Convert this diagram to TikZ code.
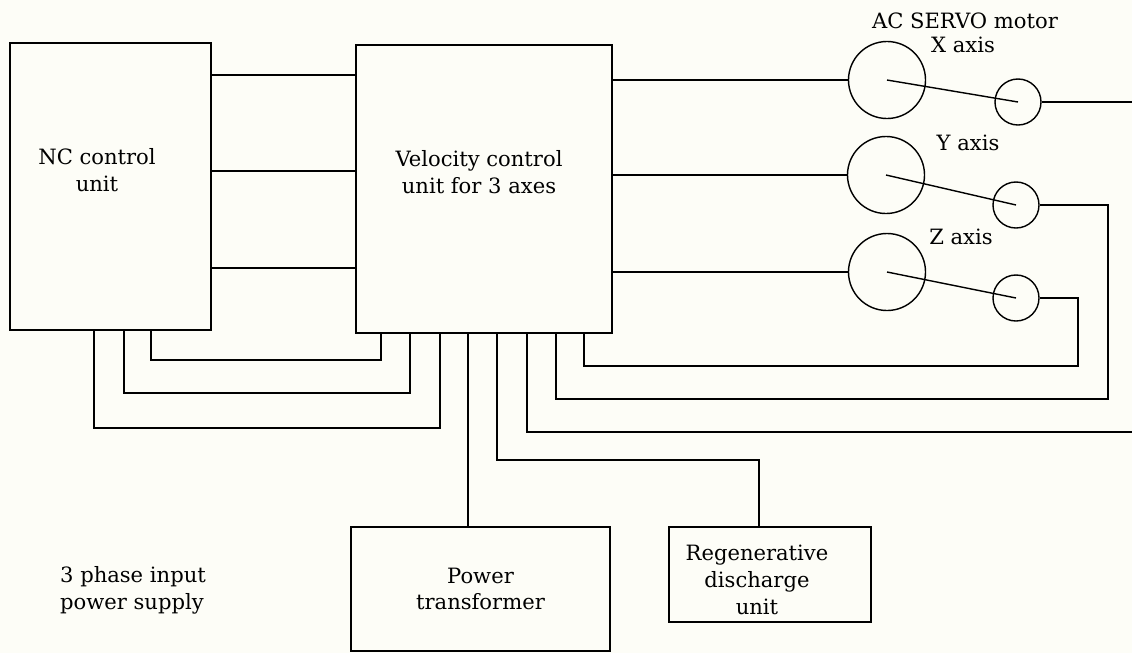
\documentclass[tikz,border=0pt]{standalone}
\usepackage{fontspec}
\setmainfont{DejaVu Serif}
\usepackage{tikz}

\definecolor{paper}{RGB}{253,253,247}

\begin{document}
\begin{tikzpicture}[x=0.025cm,y=-0.025cm,line width=1pt,
    font=\fontsize{15}{19}\selectfont,
    unit/.style={draw,rectangle,inner sep=0pt,align=center},
    motor/.style={circle,draw,minimum size=1.925cm,inner sep=0pt},
    sensor/.style={circle,draw,minimum size=1.15cm,inner sep=0pt},
    txt/.style={align=center,inner sep=0pt}]

\useasboundingbox[fill=paper] (0,0) rectangle (1132,653);

\node[unit,minimum width=5.025cm,minimum height=7.175cm] (nc) at (110.5,186.5) {};
\node[unit,minimum width=6.4cm,minimum height=7.2cm] (vel) at (484,189) {};
\node[unit,minimum width=6.475cm,minimum height=3.1cm] (pt) at (480.5,589) {Power\\transformer};
\node[unit,minimum width=5.05cm,minimum height=2.375cm] (rd) at (770,574.5) {};

\node[txt] (nctext) at (97,170) {NC control\\unit};
\node[txt] (veltext) at (479,172) {Velocity control\\unit for 3 axes};
\node[txt] (rdtext) at (757,580) {Regenerative\\discharge\\unit};
\node[txt,align=left] (supply) at (133,590) {3 phase input\\power supply};

\node[motor] (mx) at (887,80) {};
\node[motor] (my) at (886,175) {};
\node[motor] (mz) at (887,272) {};
\node[sensor] (sx) at (1018,102) {};
\node[sensor] (sy) at (1016,205) {};
\node[sensor] (sz) at (1016,298) {};

\node[txt] (acservo) at (965,21) {AC SERVO motor};
\node[txt] (xaxis) at (963,45) {X axis};
\node[txt] (yaxis) at (968,143) {Y axis};
\node[txt] (zaxis) at (961,237) {Z axis};

\foreach \y in {75,171,268}
    \draw (nc.east |- 0,\y) -- (vel.west |- 0,\y);

\draw (vel.east |- mx) -- (mx.west);
\draw (vel.east |- my) -- (my.west);
\draw (vel.east |- mz) -- (mz.west);

\draw (mx.center) -- (sx.center);
\draw (my.center) -- (sy.center);
\draw (mz.center) -- (sz.center);

\coordinate (xend) at (1132,102);
\coordinate (ycorner) at (1108,399);
\coordinate (zcorner) at (1078,366);
\coordinate (pend) at (1132,432);

\draw (sx.east) -- (xend);
\draw (sy.east) -| (ycorner) -| (vel.south -| 556,0);
\draw (sz.east) -| (zcorner) -| (vel.south -| 584,0);
\draw (pend) -| (vel.south -| 527,0);

\foreach \a/\b/\y in {151/381/360,124/410/393,94/440/428}
    \draw (nc.south -| \a,0) |- (\b,\y) -- (vel.south -| \b,0);

\draw (vel.south -| 468,0) -- (pt.north -| 468,0);
\draw (vel.south -| 497,0) |- (759,460) -- (rd.north -| 759,0);

\end{tikzpicture}
\end{document}
